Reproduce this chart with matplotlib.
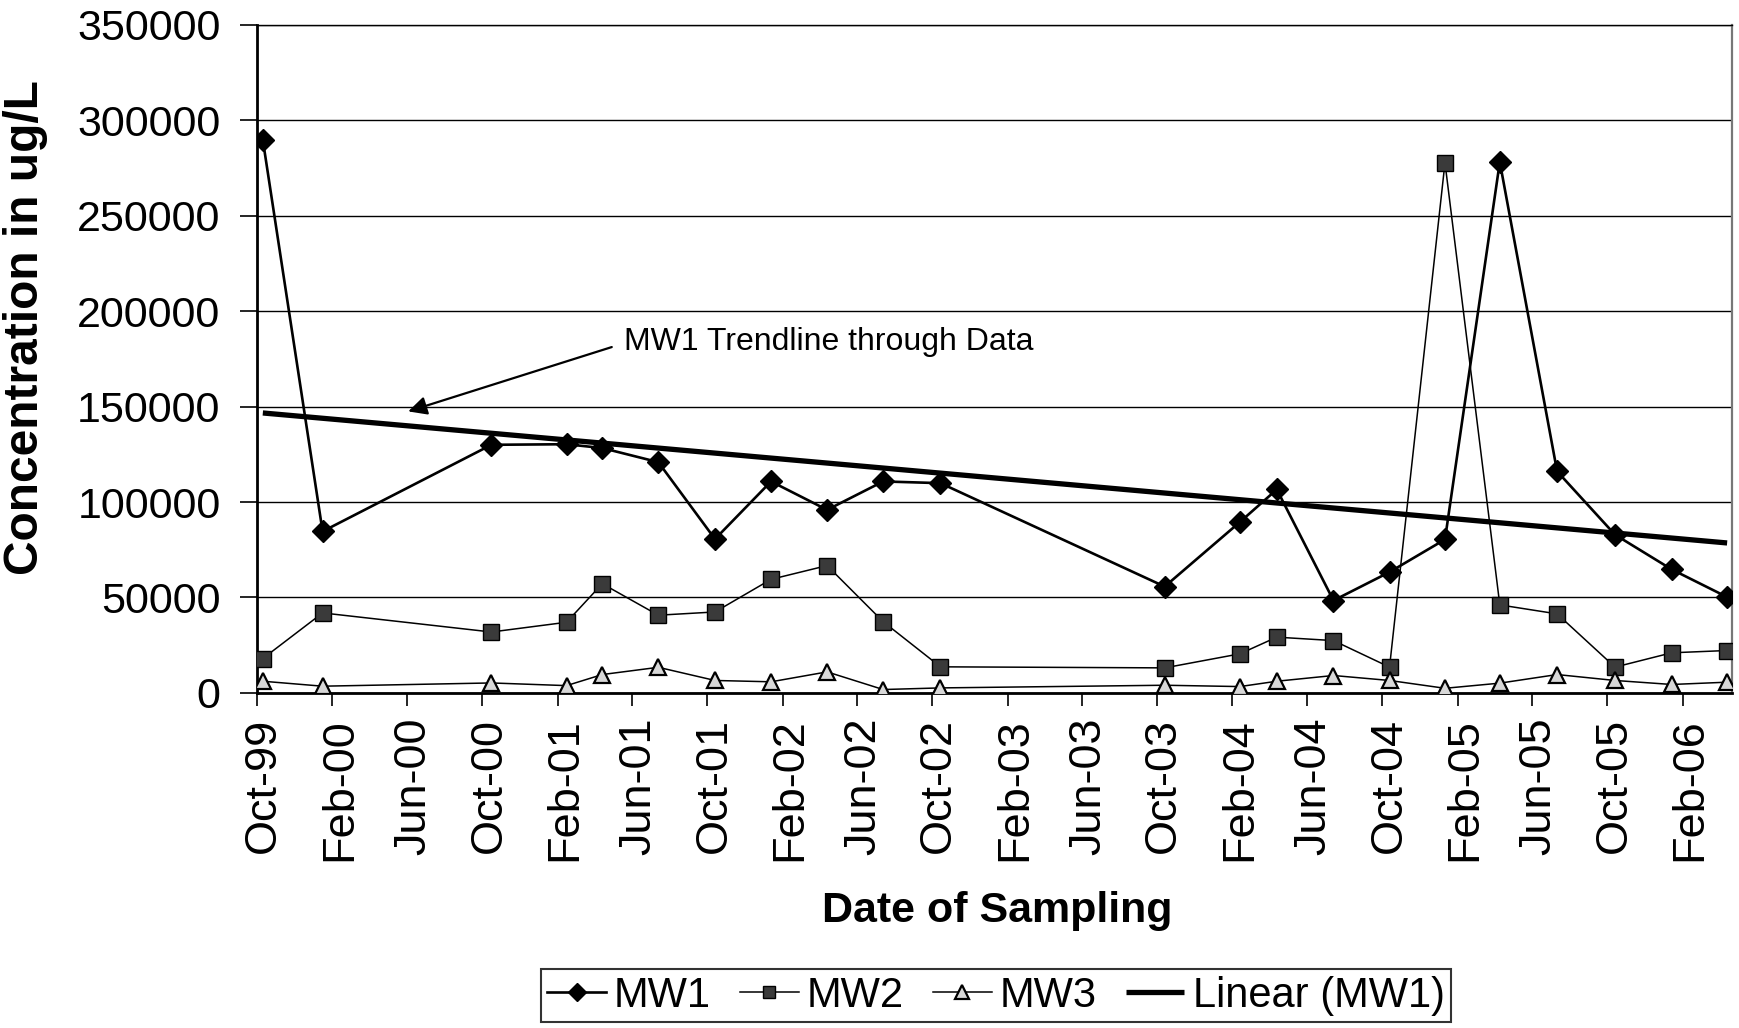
import matplotlib
matplotlib.use("Agg")
import matplotlib.pyplot as plt
import matplotlib.dates as mdates
import matplotlib.transforms as mtransforms
import numpy as np
import datetime as dt

plt.rcParams["font.family"] = ["Liberation Sans", "DejaVu Sans"]

# sampling dates shared by the three wells
sample_dates = ["1999-10-11", "2000-01-16", "2000-10-16", "2001-02-15", "2001-04-14",
                "2001-07-14", "2001-10-14", "2002-01-13", "2002-04-14", "2002-07-14",
                "2002-10-15", "2003-10-14", "2004-02-13", "2004-04-13", "2004-07-14",
                "2004-10-13", "2005-01-11", "2005-04-10", "2005-07-12", "2005-10-14",
                "2006-01-14", "2006-04-14"]

# concentrations in ug/L
mw1 = [289700, 84600, 130000, 130300, 128300, 120900, 80600, 110800, 95900, 110800,
       109900, 55700, 89500, 106600, 48400, 63300, 80400, 278200, 116100, 82900,
       64700, 50200]
mw2 = [18000, 41900, 31900, 37000, 57200, 40700, 42400, 59500, 66700, 37300,
       13650, 13100, 20450, 29200, 27400, 13500, 277800, 46100, 41400, 13500,
       21000, 22200]
mw3 = [6100, 3500, 5200, 3800, 9600, 13400, 6500, 5800, 11000, 1750,
       2600, 4000, 3300, 6100, 9100, 6500, 2400, 5100, 9600, 6500,
       4400, 5600]

y_ticks = [0, 50000, 100000, 150000, 200000, 250000, 300000, 350000]

dates = [dt.datetime.strptime(d, "%Y-%m-%d") for d in sample_dates]
xnum = mdates.date2num(dates)

fig = plt.figure(figsize=(17.39, 10.28), dpi=100)
ax = fig.add_axes([0.1476, 0.326, 0.8484, 0.6497])

ax.plot(dates, mw1, color="black", lw=1.9, marker="D", ms=11,
        mfc="black", mec="black", label="MW1", zorder=4)
ax.plot(dates, mw2, color="black", lw=1.1, marker="s", ms=11,
        mfc="#3a3a3a", mec="black", label="MW2", zorder=3)
ax.plot(dates, mw3, color="black", lw=1.1, marker="^", ms=12,
        mfc="#d8d8d8", mec="black", mew=1.6, label="MW3", zorder=3)

# least squares trend of MW1 against date
slope, icpt = np.polyfit(xnum, mw1, 1)
tx = np.array([xnum[0], xnum[-1]])
ax.plot(mdates.num2date(tx), slope * tx + icpt, color="black", lw=3.8,
        solid_capstyle="butt", label="Linear (MW1)", zorder=5)

ax.annotate("MW1 Trendline through Data",
            xy=(dt.datetime(2000, 6, 3), 147500),
            xytext=(dt.datetime(2001, 5, 19), 184000),
            fontsize=23, ha="left", va="center",
            arrowprops=dict(arrowstyle="-|>", color="black", lw=1.6,
                            mutation_scale=28, shrinkA=7, shrinkB=0,
                            relpos=(0.0, 0.45)))

ax.set_xlim(dt.datetime(1999, 10, 1), dt.datetime(2006, 4, 22))
ax.set_ylim(0, 350000)
ax.set_yticks(y_ticks)
ax.set_yticklabels([str(v) for v in y_ticks])
ax.xaxis.set_major_locator(mdates.MonthLocator(bymonth=[2, 6, 10]))
ax.xaxis.set_major_formatter(mdates.DateFormatter("%b-%y"))

ax.tick_params(axis="y", labelsize=31, length=12, width=1.2, pad=14)
ax.tick_params(axis="x", labelsize=32.5, length=9, width=1.2, pad=9,
               labelrotation=90)
# nudge the date labels a little right of their ticks
shift = mtransforms.ScaledTranslation(5 / 72, 0, fig.dpi_scale_trans)
for lbl in ax.get_xticklabels():
    lbl.set_transform(lbl.get_transform() + shift)

ax.yaxis.grid(True, color="black", lw=1.0)
ax.set_axisbelow(True)
for side in ("left", "bottom"):
    ax.spines[side].set_linewidth(2.0)
ax.spines["top"].set_linewidth(1.0)
ax.spines["right"].set_color("#777777")
ax.spines["right"].set_linewidth(1.6)

ax.set_ylabel("Concentration in ug/L", fontsize=34.5, fontweight="bold")
ax.yaxis.set_label_coords(-0.1415, 0.547)
ax.set_xlabel("Date of Sampling", fontsize=31, fontweight="bold")
ax.xaxis.set_label_coords(0.502, -0.297)

leg = fig.legend(loc="lower center", bbox_to_anchor=(0.5728, 0.006),
                 borderaxespad=0, ncol=4, fontsize=30, frameon=True,
                 fancybox=False, edgecolor="black", handlelength=1.4,
                 handletextpad=0.2, columnspacing=0.7, borderpad=0.15,
                 markerscale=0.8)
leg.get_frame().set_linewidth(1.5)

fig.savefig("out.png", dpi=100)
